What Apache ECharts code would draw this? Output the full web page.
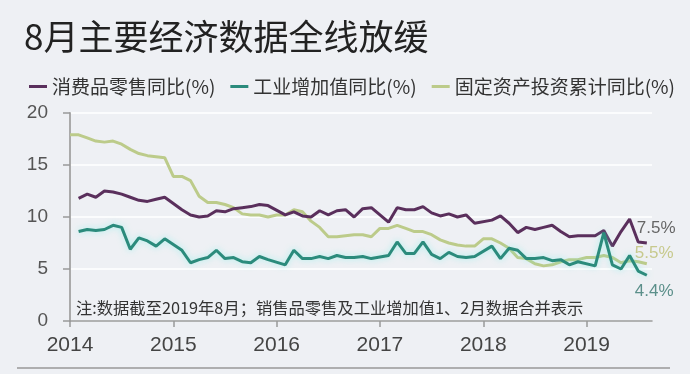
<!DOCTYPE html>
<html>
<head>
<meta charset="utf-8">
<script src="https://cdn.jsdelivr.net/npm/echarts@6/dist/echarts.min.js"></script>
<style>
html,body{margin:0;padding:0;background:#eef0f4;}
#c{width:690px;height:374px;}
</style>
</head>
<body>
<div id="c"></div>
<script>
// Month index 0 = Jan 2014 ... 67 = Aug 2019
const yearLabels = ['2014', '2015', '2016', '2017', '2018', '2019'];
const seriesNames = ['消费品零售同比(%)', '工业增加值同比(%)', '固定资产投资累计同比(%)'];

// Retail sales YoY (Jan & Feb merged -> plotted at Feb, Jan = null)
const retail = [
  null, 11.8, 12.2, 11.9, 12.5, 12.4, 12.2, 11.9, 11.6, 11.5, 11.7, 11.9,
  null, 10.7, 10.2, 10.0, 10.1, 10.6, 10.5, 10.8, 10.9, 11.0, 11.2, 11.1,
  null, 10.2, 10.5, 10.1, 10.0, 10.6, 10.2, 10.6, 10.7, 10.0, 10.8, 10.9,
  null, 9.5, 10.9, 10.7, 10.7, 11.0, 10.4, 10.1, 10.3, 10.0, 10.2, 9.4,
  null, 9.7, 10.1, 9.4, 8.5, 9.0, 8.8, 9.0, 9.2, 8.6, 8.1, 8.2,
  null, 8.2, 8.7, 7.2, 8.6, 9.8, 7.6, 7.5
];
// Industrial value added YoY
const industry = [
  null, 8.6, 8.8, 8.7, 8.8, 9.2, 9.0, 6.9, 8.0, 7.7, 7.2, 7.9,
  null, 6.8, 5.6, 5.9, 6.1, 6.8, 6.0, 6.1, 5.7, 5.6, 6.2, 5.9,
  null, 5.4, 6.8, 6.0, 6.0, 6.2, 6.0, 6.3, 6.1, 6.1, 6.2, 6.0,
  null, 6.3, 7.6, 6.5, 6.5, 7.6, 6.4, 6.0, 6.6, 6.2, 6.1, 6.2,
  null, 7.2, 6.0, 7.0, 6.8, 6.0, 6.0, 6.1, 5.8, 5.9, 5.4, 5.7,
  null, 5.3, 8.5, 5.4, 5.0, 6.3, 4.8, 4.4
];
// Fixed asset investment cumulative YoY
const fai = [
  17.9, 17.9, 17.6, 17.3, 17.2, 17.3, 17.0, 16.5, 16.1, 15.9, 15.8, 15.7,
  13.9, 13.9, 13.5, 12.0, 11.4, 11.4, 11.2, 10.9, 10.3, 10.2, 10.2, 10.0,
  10.2, 10.2, 10.7, 10.5, 9.6, 9.0, 8.1, 8.1, 8.2, 8.3, 8.3, 8.1,
  8.9, 8.9, 9.2, 8.9, 8.6, 8.6, 8.3, 7.8, 7.5, 7.3, 7.2, 7.2,
  7.9, 7.9, 7.5, 7.0, 6.1, 6.0, 5.5, 5.3, 5.4, 5.7, 5.9, 5.9,
  6.1, 6.1, 6.3, 6.1, 5.6, 5.8, 5.7, 5.5
];

const toPairs = arr => arr.map((v, i) => [i, v]);
const yearTicks = yearLabels.map((y, i) => i * 12);

const chart = echarts.init(document.getElementById('c'), null, {renderer: 'canvas'});
const cjk = "'Noto Sans CJK SC', 'Noto Sans', sans-serif";
const num = "'Liberation Sans', Arial, sans-serif";

chart.setOption({
  backgroundColor: '#eef0f4',
  animation: false,
  title: {
    text: '8月主要经济数据全线放缓',
    left: 24, top: 19, padding: 0,
    textStyle: {fontFamily: cjk, fontSize: 35, fontWeight: 'normal', color: '#222'}
  },
  legend: {
    left: 29, top: 77, padding: 0, width: 660,
    itemWidth: 18, itemHeight: 3, itemGap: 15,
    icon: 'rect',
    textStyle: {fontFamily: cjk, fontSize: 19, color: '#333'},
    data: seriesNames
  },
  grid: {left: 70, right: 38, top: 113, bottom: 53},
  xAxis: {
    type: 'value', min: 0, max: 67.6, interval: 12,
    axisLine: {lineStyle: {color: '#999', width: 1.5}},
    axisTick: {show: true, length: 6, customValues: yearTicks, lineStyle: {color: '#999', width: 1.5}},
    axisLabel: {
      customValues: yearTicks,
      formatter: v => yearLabels[Math.round(v / 12)],
      fontFamily: num, fontSize: 21, color: '#444', margin: 14
    },
    splitLine: {show: false}
  },
  yAxis: {
    type: 'value', min: 0, max: 20, interval: 5,
    axisLine: {show: true, lineStyle: {color: '#aaa', width: 2}},
    axisTick: {show: true, length: 7, lineStyle: {color: '#999', width: 1.5}},
    axisLabel: {fontFamily: num, fontSize: 19, color: '#555', margin: 22},
    splitLine: {lineStyle: {color: '#fbfcfd', width: 2}}
  },
  series: [
    {
      name: seriesNames[2], type: 'line', data: toPairs(fai), symbol: 'none', z: 2,
      itemStyle: {color: '#bccb8a'},
      lineStyle: {width: 3, color: '#bccb8a'},
      endLabel: {show: true, formatter: p => p.value[1] + '%', offset: [-20, -10],
        fontFamily: num, fontSize: 17, color: '#c7c98d'}
    },
    {
      name: seriesNames[0], type: 'line', data: toPairs(retail), symbol: 'none', connectNulls: true, z: 3,
      itemStyle: {color: '#5a2f5c'},
      lineStyle: {width: 3, color: '#5a2f5c'},
      endLabel: {show: true, formatter: p => p.value[1] + '%', offset: [-18, -15],
        fontFamily: num, fontSize: 17, color: '#666'}
    },
    {
      name: seriesNames[1], type: 'line', data: toPairs(industry), symbol: 'none', connectNulls: true, z: 4,
      itemStyle: {color: '#2b8b7c'},
      lineStyle: {width: 3, color: '#2b8b7c', shadowColor: 'rgba(110,240,230,0.55)', shadowBlur: 6},
      endLabel: {show: true, formatter: p => p.value[1] + '%', offset: [-20, 16],
        fontFamily: num, fontSize: 17, color: '#5b8f8a'}
    }
  ],
  graphic: [
    {
      type: 'text', left: 76, top: 300,
      style: {text: '注:数据截至2019年8月；销售品零售及工业增加值1、2月数据合并表示',
        font: "16.3px 'Noto Sans CJK SC', sans-serif", fill: '#333'}
    },
    {
      type: 'line', shape: {x1: 17, y1: 368, x2: 670, y2: 368},
      style: {stroke: '#999', lineWidth: 1.5}
    }
  ]
});
</script>
</body>
</html>
